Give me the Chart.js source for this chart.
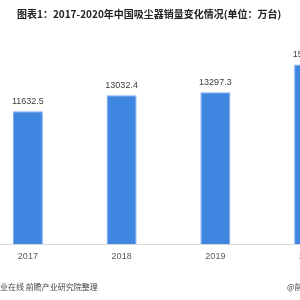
<!DOCTYPE html>
<html>
<head>
<meta charset="utf-8">
<script src="https://cdn.jsdelivr.net/npm/chart.js@4"></script>
<style>
  html, body { margin: 0; padding: 0; background: #fff; }
  body { width: 300px; height: 300px; overflow: hidden; position: relative; }
  #wrap { position: absolute; left: -19px; top: 0; width: 380px; height: 300px; }
  .title {
    position: absolute; left: 17px; top: 6px; white-space: nowrap;
    font: bold 10px "Noto Sans CJK SC", sans-serif; color: #222;
  }
  .foot {
    position: absolute; top: 281px; white-space: nowrap;
    font: 8px "Noto Sans CJK SC", sans-serif; color: #444;
  }
</style>
</head>
<body>
<div id="wrap"><canvas id="salesChart" width="380" height="300"></canvas></div>
<div class="title">图表1：2017-2020年中国吸尘器销量变化情况(单位：万台)</div>
<div class="foot" style="left:0">业在线 前瞻产业研究院整理</div>
<div class="foot" style="left:287px">@前瞻经济学人</div>
<script>
// 数据（万台）
const years = ['2017', '2018', '2019', '2020'];
const sales = [11632.5, 13032.4, 13297.3, 15720.0];

// 柱顶数值标签
const valueLabels = {
  id: 'valueLabels',
  afterDatasetsDraw(chart) {
    const ctx = chart.ctx;
    const meta = chart.getDatasetMeta(0);
    ctx.save();
    ctx.font = '9px "Liberation Sans", Arial, sans-serif';
    ctx.fillStyle = '#404040';
    ctx.textAlign = 'center';
    ctx.textBaseline = 'middle';
    meta.data.forEach((bar, i) => {
      ctx.fillText(sales[i].toFixed(1), bar.x, bar.y - 10);
    });
    ctx.restore();
  }
};

new Chart(document.getElementById('salesChart'), {
  type: 'bar',
  data: {
    labels: years,
    datasets: [{
      data: sales,
      backgroundColor: '#3f86e0',
      borderColor: '#79aaf0',
      borderWidth: 1,
      categoryPercentage: 1,
      barPercentage: 0.32
    }]
  },
  options: {
    responsive: false,
    animation: false,
    layout: { padding: { top: 38.4, bottom: 31, left: 0, right: 5 } },
    plugins: { legend: { display: false }, tooltip: { enabled: false } },
    scales: {
      x: {
        grid: { display: false, drawTicks: false },
        border: { color: '#d9d9d9', width: 1 },
        ticks: {
          padding: 7,
          color: '#595959',
          font: { family: '"Liberation Sans", Arial, sans-serif', size: 9 }
        }
      },
      y: { display: false, min: 0, max: 18000 }
    }
  },
  plugins: [valueLabels]
});
</script>
</body>
</html>
